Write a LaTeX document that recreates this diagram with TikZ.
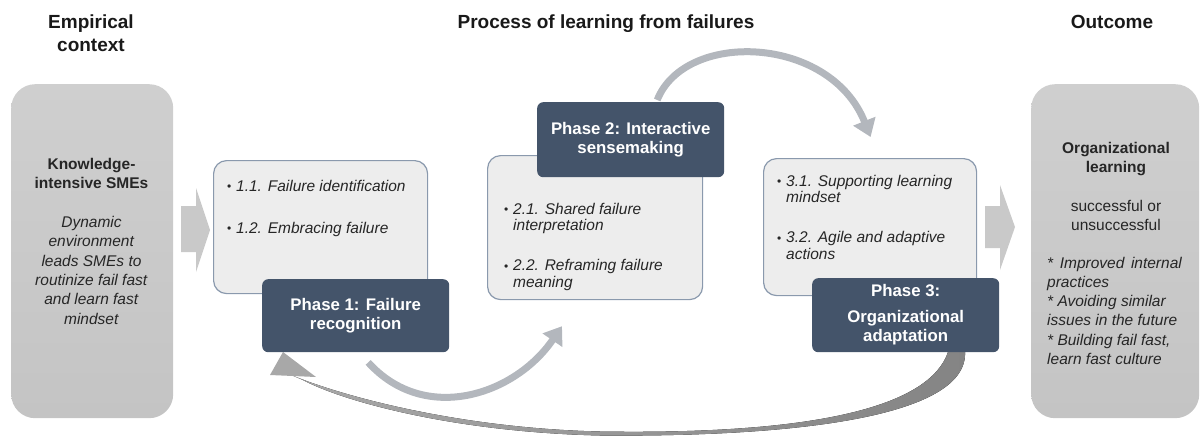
\documentclass[tikz,border=0pt]{standalone}
\usepackage{fontspec}
\setmainfont{Liberation Sans}
\usetikzlibrary{calc,arrows.meta}
\definecolor{darkbox}{HTML}{44546A}
\definecolor{lightfill}{HTML}{EDEDED}
\definecolor{lightborder}{HTML}{8A99AD}
\definecolor{sidetop}{HTML}{CFCFCF}
\definecolor{sidebot}{HTML}{C4C4C4}
\definecolor{chev}{HTML}{C9C9C9}
\definecolor{curvecol}{HTML}{B3B7BD}
\definecolor{bigL}{HTML}{A8A8A8}
\definecolor{bigR}{HTML}{848484}
\definecolor{txt}{HTML}{262626}
\newcommand\myBody{\fontsize{15.5}{16.5}\selectfont}
\newcommand\mySide{\fontsize{15.5}{19.3}\selectfont}
\newcommand\myTitle{\fontsize{19}{23}\selectfont\bfseries}
\newcommand\myPhase{\fontsize{16.8}{19}\selectfont\bfseries}
\newcommand\myBul{\makebox[9pt][l]{\fontsize{12}{12}\selectfont\raisebox{0.5pt}{•}}}
\begin{document}
\begin{tikzpicture}[x=1pt,y=-1pt,
  sidebox/.style={rectangle, rounded corners=24pt, top color=sidetop, bottom color=sidebot, draw=none, inner sep=0pt, anchor=north west},
  lightbox/.style={rectangle, rounded corners=13pt, fill=lightfill, draw=lightborder, line width=1.2pt, inner sep=0pt, anchor=north west},
  phasebox/.style={rectangle, rounded corners=6pt, fill=darkbox, draw=none, inner sep=0pt, anchor=north west, text=white, font=\myPhase, minimum width=187pt},
  titletext/.style={anchor=base, inner sep=0pt, text=black!90, font=\myTitle},
  bodytext/.style={inner sep=0pt, text=txt},
  chevron/.style={fill=chev, draw=none},
  curvearrow/.style={draw=curvecol, line width=7pt, -{Triangle[width=23pt,length=17pt]}}
]
\useasboundingbox (0,0) rectangle (1200,436);

% titles
\node[titletext] (tctx) at (91,29) {\begin{tabular}[t]{@{}c@{}}Empirical\\context\end{tabular}};
\node[titletext] (tproc) at (606,28.5) {Process of learning from failures};
\node[titletext] (tout) at (1112,29) {Outcome};

% side boxes
\node[sidebox, minimum width=162pt, minimum height=334pt] (ctx) at (11,84) {};
\node[sidebox, minimum width=168pt, minimum height=334pt] (out) at (1031,84) {};

% chevron arrows
\fill[chevron] (181,206) -- (196,206) -- (196,188) -- (210,230) -- (196,272) -- (196,252) -- (181,252) -- cycle;
\fill[chevron] (985,206) -- (1000,206) -- (1000,185) -- (1015,227) -- (1000,270) -- (1000,248) -- (985,248) -- cycle;

% light boxes
\node[lightbox, minimum width=214pt, minimum height=133pt] (b1) at (213,160) {};
\node[lightbox, minimum width=215pt, minimum height=144pt] (b2) at (487,155) {};
\node[lightbox, minimum width=213pt, minimum height=137pt] (b3) at (763,158) {};

% big return arrow
\fill[left color=bigL, right color=bigR] (289,374) .. controls (330,392) and (450,428) .. (600,431.5)
  .. controls (760,434) and (925,420) .. (948,352) -- (965,352)
  .. controls (968,420) and (780,437) .. (600,435.5)
  .. controls (450,432) and (340,400) .. (303,380) -- cycle;
\fill[bigL] (283,352) -- (270,375) -- (316,377) -- cycle;

% phase boxes
\node[phasebox, minimum height=73pt] (p1) at (262,279) {\begin{tabular}{@{}c@{}}Phase 1: Failure\\recognition\end{tabular}};
\node[phasebox, minimum height=75pt] (p2) at (537,102) {\begin{tabular}{@{}c@{}}Phase 2: Interactive\\sensemaking\end{tabular}};
\node[phasebox, minimum height=74pt] (p3) at (812,278) {\begin{tabular}{@{}c@{}}Phase 3:\\[7pt]Organizational\\adaptation\end{tabular}};

% curved arrows
\coordinate (aS) at ($(p1.south)+(12.5,10)$);
\coordinate (aE) at ($(b2.south west)+(75,26)$);
\draw[curvearrow] (aS) .. controls (425,425) and (515,395) .. (aE);
\coordinate (bS) at ($(p2.north)+(26.5,-2)$);
\coordinate (bE) at ($(b3.north)+(0.5,-21)$);
\draw[curvearrow] (bS) .. controls (685,30) and (830,35) .. (bE);

% left box text
\node[bodytext, anchor=base, font=\mySide] (ctxt) at (91.5,169) {\begin{tabular}[t]{@{}c@{}}
\textbf{Knowledge-}\\ \textbf{intensive SMEs}\\[20pt]
\textit{Dynamic}\\ \textit{environment}\\ \textit{leads SMEs to}\\ \textit{routinize fail fast}\\ \textit{and learn fast}\\ \textit{mindset}\end{tabular}};

% right box text
\node[bodytext, anchor=base, font=\mySide] (outt) at (1116,153) {\begin{tabular}[t]{@{}c@{}}
\textbf{Organizational}\\ \textbf{learning}\\[20pt]
successful or\\ unsuccessful\end{tabular}};
\node[bodytext, anchor=base west, font=\mySide] (outl) at (1047,268) {\begin{tabular}[t]{@{}l@{}}
\makebox[135pt][s]{\textit{* Improved internal}}\\ \textit{practices}\\
\textit{* Avoiding similar}\\ \textit{issues in the future}\\
\textit{* Building fail fast,}\\ \textit{learn fast culture}\end{tabular}};

% list texts
\node[bodytext, anchor=base west, font=\myBody] (l1) at (227,191) {\begin{tabular}[t]{@{}l@{}l@{}}
\myBul & \textit{1.1. Failure identification}\\[25.5pt]
\myBul & \textit{1.2. Embracing failure}\end{tabular}};
\node[bodytext, anchor=base west, font=\myBody] (l2) at (504,214) {\begin{tabular}[t]{@{}l@{}l@{}}
\myBul & \textit{2.1. Shared failure}\\ & \textit{interpretation}\\[23.5pt]
\myBul & \textit{2.2. Reframing failure}\\ & \textit{meaning}\end{tabular}};
\node[bodytext, anchor=base west, font=\myBody] (l3) at (777,186) {\begin{tabular}[t]{@{}l@{}l@{}}
\myBul & \textit{3.1. Supporting learning}\\ & \textit{mindset}\\[23.5pt]
\myBul & \textit{3.2. Agile and adaptive}\\ & \textit{actions}\end{tabular}};
\end{tikzpicture}
\end{document}
